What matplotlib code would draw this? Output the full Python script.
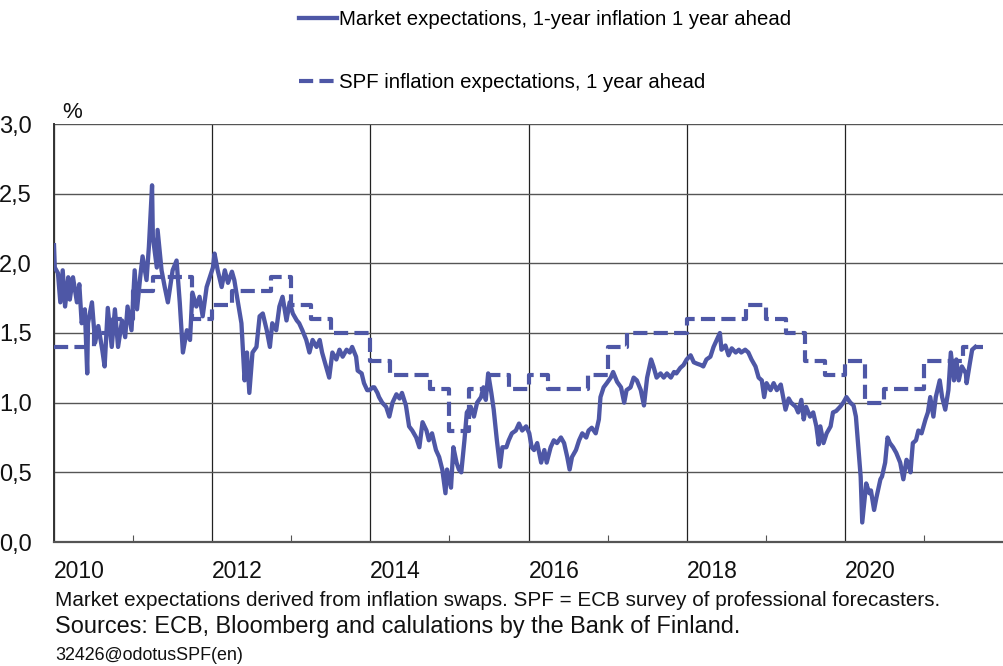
import matplotlib
matplotlib.use("Agg")
import matplotlib.pyplot as plt
from matplotlib.ticker import FixedLocator, FuncFormatter

plt.rcParams['font.family'] = ['Liberation Sans', 'DejaVu Sans']

# ---- Data (decimal years, %) ----
market_years = [
    2010.00, 2010.01, 2010.05, 2010.08, 2010.11, 2010.14, 2010.18, 2010.20, 2010.24, 2010.29,
    2010.32, 2010.35, 2010.39, 2010.42, 2010.43, 2010.48, 2010.52, 2010.56, 2010.61, 2010.64,
    2010.68, 2010.73, 2010.77, 2010.81, 2010.86, 2010.90, 2010.93, 2010.98, 2011.02, 2011.05,
    2011.09, 2011.12, 2011.17, 2011.20, 2011.24, 2011.25, 2011.30, 2011.31, 2011.36, 2011.40,
    2011.44, 2011.50, 2011.55, 2011.59, 2011.63, 2011.68, 2011.72, 2011.75, 2011.80, 2011.84,
    2011.88, 2011.93, 2012.01, 2012.03, 2012.07, 2012.12, 2012.16, 2012.20, 2012.25, 2012.28,
    2012.32, 2012.37, 2012.41, 2012.44, 2012.47, 2012.51, 2012.56, 2012.60, 2012.64, 2012.69,
    2012.73, 2012.76, 2012.81, 2012.85, 2012.89, 2012.94, 2012.98, 2013.02, 2013.07, 2013.10,
    2013.14, 2013.19, 2013.23, 2013.27, 2013.32, 2013.36, 2013.39, 2013.44, 2013.48, 2013.52,
    2013.57, 2013.61, 2013.65, 2013.70, 2013.74, 2013.77, 2013.82, 2013.84, 2013.89, 2013.92,
    2013.96, 2013.99, 2014.03, 2014.05, 2014.09, 2014.11, 2014.15, 2014.20, 2014.24, 2014.28,
    2014.33, 2014.37, 2014.40, 2014.45, 2014.49, 2014.53, 2014.58, 2014.62, 2014.66, 2014.71,
    2014.74, 2014.78, 2014.83, 2014.87, 2014.91, 2014.95, 2014.97, 2015.02, 2015.05, 2015.09,
    2015.12, 2015.15, 2015.19, 2015.22, 2015.27, 2015.31, 2015.35, 2015.40, 2015.43, 2015.46,
    2015.49, 2015.53, 2015.56, 2015.60, 2015.64, 2015.67, 2015.72, 2015.75, 2015.79, 2015.84,
    2015.88, 2015.92, 2015.97, 2016.01, 2016.04, 2016.07, 2016.11, 2016.16, 2016.20, 2016.23,
    2016.28, 2016.32, 2016.36, 2016.41, 2016.45, 2016.49, 2016.52, 2016.55, 2016.60, 2016.64,
    2016.68, 2016.73, 2016.76, 2016.80, 2016.85, 2016.89, 2016.91, 2016.95, 2016.99, 2017.04,
    2017.07, 2017.12, 2017.17, 2017.21, 2017.24, 2017.29, 2017.33, 2017.37, 2017.42, 2017.46,
    2017.50, 2017.55, 2017.58, 2017.62, 2017.67, 2017.71, 2017.75, 2017.80, 2017.84, 2017.87,
    2017.92, 2017.96, 2018.00, 2018.05, 2018.09, 2018.13, 2018.18, 2018.21, 2018.25, 2018.30,
    2018.34, 2018.38, 2018.42, 2018.44, 2018.49, 2018.53, 2018.57, 2018.62, 2018.66, 2018.69,
    2018.74, 2018.78, 2018.82, 2018.87, 2018.91, 2018.95, 2018.98, 2019.01, 2019.06, 2019.10,
    2019.14, 2019.19, 2019.22, 2019.25, 2019.29, 2019.32, 2019.38, 2019.41, 2019.45, 2019.48,
    2019.51, 2019.56, 2019.60, 2019.64, 2019.67, 2019.69, 2019.73, 2019.77, 2019.82, 2019.85,
    2019.89, 2019.94, 2019.98, 2020.02, 2020.07, 2020.11, 2020.14, 2020.17, 2020.20, 2020.22,
    2020.26, 2020.27, 2020.31, 2020.33, 2020.37, 2020.40, 2020.45, 2020.47, 2020.51, 2020.54,
    2020.57, 2020.61, 2020.65, 2020.70, 2020.74, 2020.78, 2020.80, 2020.83, 2020.86, 2020.90,
    2020.93, 2020.97, 2021.02, 2021.05, 2021.08, 2021.12, 2021.15, 2021.20, 2021.23, 2021.27,
    2021.31, 2021.34, 2021.38, 2021.41, 2021.44, 2021.48, 2021.53, 2021.54, 2021.58, 2021.61,
    2021.65,
]
market_values = [
    2.13, 1.97, 1.93, 1.72, 1.95, 1.69, 1.90, 1.74, 1.90, 1.72,
    1.85, 1.57, 1.67, 1.21, 1.57, 1.72, 1.43, 1.55, 1.38, 1.26,
    1.68, 1.40, 1.67, 1.40, 1.59, 1.47, 1.69, 1.52, 1.95, 1.67,
    1.90, 2.05, 1.88, 2.12, 2.56, 2.19, 1.97, 2.24, 1.95, 1.83,
    1.72, 1.95, 2.02, 1.72, 1.36, 1.52, 1.45, 1.79, 1.69, 1.76,
    1.62, 1.83, 1.97, 2.07, 1.95, 1.83, 1.95, 1.86, 1.94, 1.88,
    1.74, 1.57, 1.16, 1.36, 1.07, 1.36, 1.40, 1.62, 1.64, 1.52,
    1.40, 1.57, 1.52, 1.69, 1.76, 1.59, 1.72, 1.64, 1.59, 1.57,
    1.52, 1.45, 1.36, 1.45, 1.40, 1.45, 1.36, 1.26, 1.18, 1.36,
    1.31, 1.38, 1.33, 1.38, 1.36, 1.40, 1.33, 1.23, 1.21, 1.14,
    1.09, 1.09, 1.11, 1.11, 1.07, 1.04, 1.00, 0.97, 0.90, 1.00,
    1.06, 1.03, 1.07, 0.98, 0.83, 0.80, 0.75, 0.68, 0.86, 0.80,
    0.73, 0.78, 0.66, 0.61, 0.52, 0.35, 0.52, 0.39, 0.68, 0.57,
    0.52, 0.50, 0.73, 0.93, 0.97, 0.90, 1.00, 1.04, 1.11, 1.02,
    1.21, 1.07, 0.95, 0.73, 0.54, 0.68, 0.68, 0.73, 0.78, 0.80,
    0.85, 0.80, 0.83, 0.78, 0.68, 0.66, 0.71, 0.57, 0.66, 0.57,
    0.68, 0.73, 0.71, 0.75, 0.71, 0.61, 0.52, 0.61, 0.66, 0.73,
    0.78, 0.75, 0.80, 0.82, 0.78, 0.88, 1.04, 1.11, 1.14, 1.18,
    1.22, 1.15, 1.11, 1.00, 1.09, 1.11, 1.18, 1.16, 1.09, 0.98,
    1.18, 1.31, 1.26, 1.18, 1.21, 1.18, 1.21, 1.18, 1.22, 1.21,
    1.25, 1.27, 1.31, 1.34, 1.29, 1.28, 1.27, 1.26, 1.31, 1.33,
    1.40, 1.45, 1.50, 1.38, 1.41, 1.34, 1.39, 1.36, 1.38, 1.36,
    1.38, 1.36, 1.31, 1.26, 1.18, 1.16, 1.04, 1.14, 1.09, 1.14,
    1.09, 1.13, 1.04, 0.95, 1.03, 1.00, 0.97, 0.93, 1.02, 0.88,
    0.97, 0.90, 0.93, 0.83, 0.70, 0.83, 0.71, 0.78, 0.83, 0.93,
    0.94, 0.97, 1.00, 1.04, 1.00, 0.98, 0.90, 0.68, 0.47, 0.14,
    0.37, 0.42, 0.35, 0.37, 0.23, 0.32, 0.45, 0.47, 0.57, 0.75,
    0.71, 0.68, 0.64, 0.57, 0.45, 0.59, 0.57, 0.50, 0.71, 0.73,
    0.80, 0.78, 0.88, 0.93, 1.04, 0.90, 1.04, 1.16, 1.04, 0.95,
    1.09, 1.36, 1.16, 1.31, 1.16, 1.26, 1.21, 1.14, 1.28, 1.38,
    1.40,
]

spf_quarters = [
    2010.00, 2010.25, 2010.50, 2010.75, 2011.00, 2011.25, 2011.50, 2011.75,
    2012.00, 2012.25, 2012.50, 2012.75, 2013.00, 2013.25, 2013.50, 2013.75,
    2014.00, 2014.25, 2014.50, 2014.75, 2015.00, 2015.25, 2015.50, 2015.75,
    2016.00, 2016.25, 2016.50, 2016.75, 2017.00, 2017.25, 2017.50, 2017.75,
    2018.00, 2018.25, 2018.50, 2018.75, 2019.00, 2019.25, 2019.50, 2019.75,
    2020.00, 2020.25, 2020.50, 2020.75, 2021.00, 2021.25, 2021.50, 2021.75,
]
spf_values = [
    1.4, 1.4, 1.5, 1.6, 1.8, 1.9, 1.9, 1.6,
    1.7, 1.8, 1.8, 1.9, 1.7, 1.6, 1.5, 1.5,
    1.3, 1.2, 1.2, 1.1, 0.8, 1.1, 1.2, 1.1,
    1.2, 1.1, 1.1, 1.2, 1.4, 1.5, 1.5, 1.5,
    1.6, 1.6, 1.6, 1.7, 1.6, 1.5, 1.3, 1.2,
    1.3, 1.0, 1.1, 1.1, 1.3, 1.3, 1.4, 1.4,
]

x_tick_years = [2010, 2012, 2014, 2016, 2018, 2020]
x_minor_years = [2011, 2013, 2015, 2017, 2019, 2021]
y_ticks = [0.0, 0.5, 1.0, 1.5, 2.0, 2.5, 3.0]

label_market = "Market expectations, 1-year inflation 1 year ahead"
label_spf = "SPF inflation expectations, 1 year ahead"
note1 = "Market expectations derived from inflation swaps. SPF = ECB survey of professional forecasters."
note2 = "Sources: ECB, Bloomberg and calulations by the Bank of Finland."
note3 = "32426@odotusSPF(en)"

# ---- Figure ----
W, H = 1004, 666
fig = plt.figure(figsize=(W / 100, H / 100), dpi=100)
ax = fig.add_axes([54 / W, 1 - 542 / H, (1003 - 54) / W, (542 - 124) / H])

color = '#4E57A6'
l1, = ax.plot(market_years, market_values, color=color, lw=3.1,
              solid_joinstyle='round', label=label_market, zorder=3)
l2, = ax.plot(spf_quarters, spf_values, color=color, lw=3.0, drawstyle='steps-post',
              dashes=(3.4, 1.5), dash_capstyle='butt', label=label_spf, zorder=3)

ax.set_xlim(2010, 2022)
ax.set_ylim(0, 3.0)

ax.xaxis.set_major_locator(FixedLocator(x_tick_years))
ax.xaxis.set_minor_locator(FixedLocator(x_minor_years))
ax.yaxis.set_major_locator(FixedLocator(y_ticks))
ax.yaxis.set_major_formatter(FuncFormatter(lambda v, p: f"{v:.1f}".replace('.', ',')))

ax.grid(axis='y', color='#555555', lw=1.0, zorder=1)
ax.grid(axis='x', which='major', color='#222222', lw=0.9, zorder=1)

for s in ['top', 'right']:
    ax.spines[s].set_visible(False)
ax.spines['left'].set_color('#333333')
ax.spines['left'].set_linewidth(1.4)
ax.spines['bottom'].set_color('#555555')
ax.spines['bottom'].set_linewidth(1.6)

ax.tick_params(axis='y', length=0, pad=16, labelsize=17, labelcolor='#111111')
ax.tick_params(axis='x', which='major', length=0, pad=13, labelsize=16.5, labelcolor='#111111')
ax.tick_params(axis='x', which='minor', direction='in', length=5, width=0.8, color='#555555')
for lab in ax.get_xticklabels():
    lab.set_horizontalalignment('left')

fig.text(62 / W, 1 - 112 / H, "%", fontsize=16, va='center', ha='left', color='#111111')

leg = fig.legend(handles=[l1, l2], loc='upper left', bbox_to_anchor=(291 / W, 1 - 2 / H),
                 frameon=False, fontsize=14.7, handlelength=1.85, handletextpad=0.1,
                 labelspacing=2.15, borderaxespad=0)

fig.text(55 / W, 1 - 601 / H, note1, fontsize=14.85, va='center', ha='left', color='#111111')
fig.text(55 / W, 1 - 627 / H, note2, fontsize=16.9, va='center', ha='left', color='#111111')
fig.text(55 / W, 1 - 655 / H, note3, fontsize=12.9, va='center', ha='left', color='#111111')

fig.savefig("out.png", dpi=100)
